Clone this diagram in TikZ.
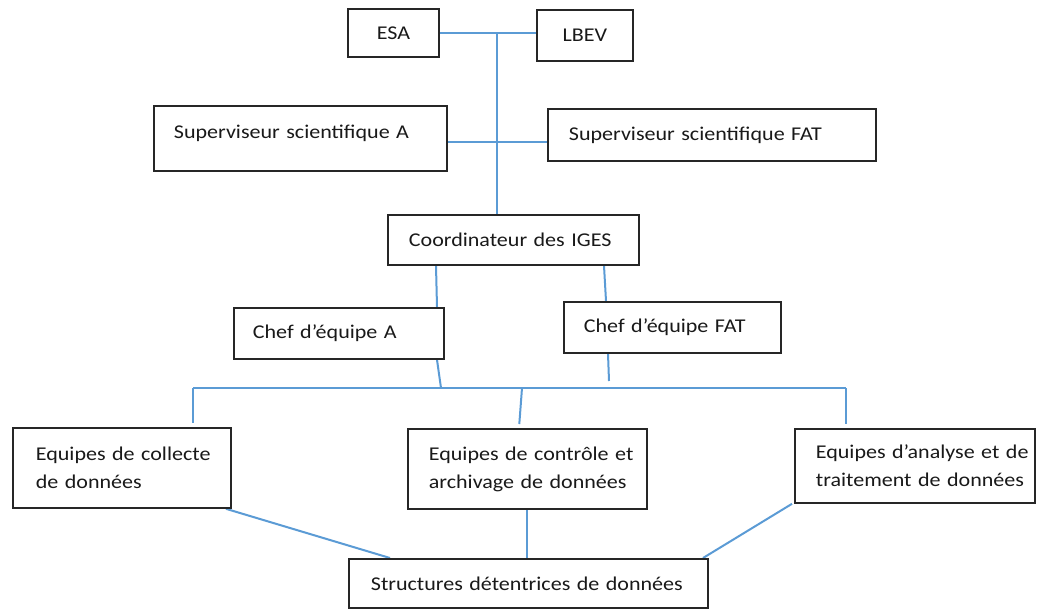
\documentclass[tikz,border=0pt]{standalone}
\usepackage{fontspec}
\setmainfont{Carlito}[FakeStretch=1.13, WordSpace=0.6]
\usetikzlibrary{backgrounds}
\definecolor{linkblue}{RGB}{91,155,213}
\definecolor{boxline}{RGB}{38,38,38}
\begin{document}
\begin{tikzpicture}[x=1pt,y=-1pt,
  box/.style={draw=boxline, line width=1.8pt, rectangle, anchor=north west,
    inner ysep=0pt, fill=white, text=black!90,
    font=\fontsize{19.5}{28}\selectfont},
  link/.style={draw=linkblue, line width=2pt}]
\useasboundingbox (0,0) rectangle (1040,610);

% top level
\node[box, minimum width=91, minimum height=48, align=center] (esa) at (347,8) {ESA};
\node[box, minimum width=96, minimum height=51, align=center] (lbev) at (536,9) {LBEV};

% scientific supervisors
\node[box, minimum width=293, minimum height=65, inner xsep=20pt, text width=253pt,
  align=left, text height=14pt, text depth=14pt] (supa) at (153,105) {\mbox{Superviseur scientifique A}};
\node[box, minimum width=328, minimum height=52, inner xsep=21pt, text width=286pt,
  align=left] (supf) at (547,108) {\mbox{Superviseur scientifique FAT}};

% coordination
\node[box, minimum width=251, minimum height=50, inner xsep=21pt, text width=209pt,
  align=left] (coord) at (387,214) {\mbox{Coordinateur des IGES}};
\node[box, minimum width=210, minimum height=51, inner xsep=19pt, text width=172pt,
  align=left] (chefa) at (233,307) {\mbox{Chef d’équipe A}};
\node[box, minimum width=217, minimum height=51, inner xsep=20pt, text width=177pt,
  align=left] (cheff) at (563,301) {\mbox{Chef d’équipe FAT}};

% teams
\node[box, minimum width=218, minimum height=80, inner xsep=23pt, text width=172pt,
  align=left] (ecol) at (12,427) {\mbox{Equipes de collecte}\\\mbox{de données}};
\node[box, minimum width=239, minimum height=80, inner xsep=21pt, text width=197pt,
  align=left] (ectl) at (407,428) {\mbox{Equipes de contrôle et}\\\mbox{archivage de données}};
\node[box, minimum width=240, minimum height=74, inner xsep=21pt, text width=198pt,
  align=left] (eana) at (794,428) {\mbox{Equipes d’analyse et de}\\\mbox{traitement de données}};

% data holders
\node[box, minimum width=359, minimum height=49, inner xsep=22pt, text width=315pt,
  align=left] (struct) at (348,558) {\mbox{Structures détentrices de données}};

% connectors
\coordinate (top) at (497,33);
\coordinate (mid) at (497,142);
\coordinate (busL) at (193,388);
\coordinate (busA) at (441,388);
\coordinate (busM) at (522,388);
\coordinate (busR) at (846,388);
\coordinate (endF) at (609,381);

\begin{pgfonlayer}{background}
  \draw[link] (esa.east |- top) -- (lbev.west |- top);
  \draw[link] (top) -- (top |- coord.north);
  \draw[link] (supa.east |- mid) -- (supf.west |- mid);
  \draw[link] (coord.south -| 436,0) -- (chefa.north -| 437,0);
  \draw[link] (coord.south -| 604,0) -- (cheff.north -| 606,0);
  \draw[link] (busL) -- (busR);
  \draw[link] (chefa.south -| 437,0) -- (busA);
  \draw[link] (cheff.south -| 608,0) -- (endF);
  \draw[link, shorten >=4pt] (busL) -- (ecol.north -| busL);
  \draw[link, shorten >=4pt] (busM) -- (ectl.north -| 519,0);
  \draw[link, shorten >=4pt] (busR) -- (eana.north -| busR);
  \draw[link] (ecol.south -| 226,0) -- (struct.north -| 390,0);
  \draw[link] (ectl.south -| 527,0) -- (struct.north -| 527,0);
  \draw[link] (eana.south -| 792,0) -- (struct.north -| 703,0);
\end{pgfonlayer}
\end{tikzpicture}
\end{document}
